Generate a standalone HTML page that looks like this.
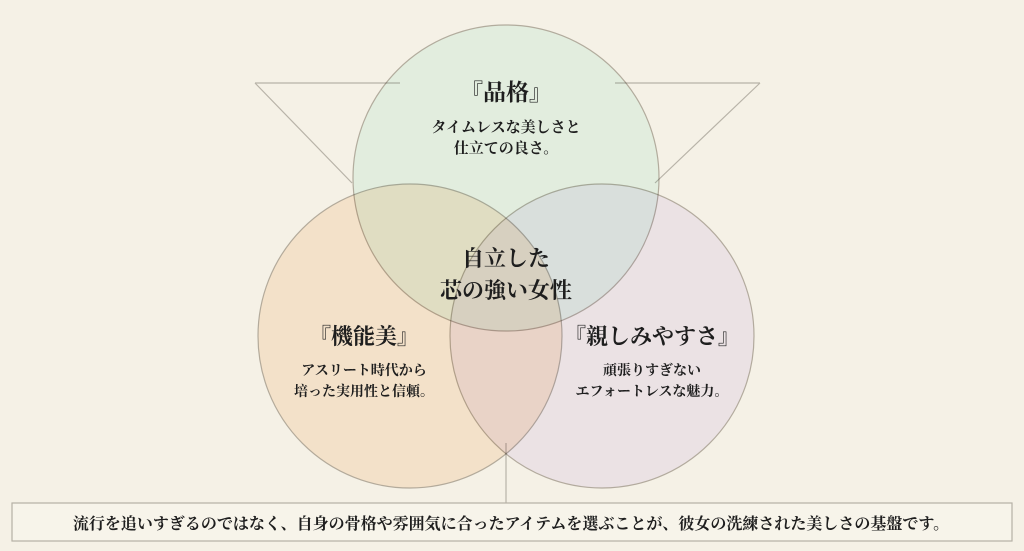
<html><head><style>
body{margin:0;background:#f5f1e6;}
svg text{font-family:"Liberation Serif","Noto Serif CJK SC",serif;fill:#1e1e1e;text-anchor:middle;font-weight:bold}
</style></head><body>
<svg width="1024" height="551" viewBox="0 0 1024 551" xmlns="http://www.w3.org/2000/svg">
<rect width="1024" height="551" fill="#f5f1e6"/>
<g stroke="#b8b3a8" stroke-width="1.2" fill="none">
<line x1="255" y1="83" x2="400" y2="83"/>
<line x1="615" y1="83" x2="760" y2="83"/>
<line x1="255" y1="83" x2="352" y2="183"/>
<line x1="760" y1="83" x2="655" y2="183"/>
<line x1="506" y1="443" x2="506" y2="503"/>
</g>
<g stroke="#aaa49b" stroke-width="1.2" stroke-opacity="0.8">
<circle cx="506" cy="178" r="153" fill="#ecfbf6" style="mix-blend-mode:multiply"/>
<circle cx="410" cy="336" r="152" fill="#fdeedf" style="mix-blend-mode:multiply"/>
<circle cx="602" cy="336" r="152" fill="#f5f0fd" style="mix-blend-mode:multiply"/>
</g>
<rect x="12" y="503" width="1000" height="38" fill="#f7f4ea" stroke="#b5b0a5" stroke-width="1.2"/>
<text x="506" y="100" font-size="23">『品格』</text>
<text x="506" y="132" font-size="15">タイムレスな美しさと</text>
<text x="506" y="153" font-size="15">仕立ての良さ。</text>
<text x="506" y="266" font-size="22">自立した</text>
<text x="506" y="298" font-size="22">芯の強い女性</text>
<text x="364" y="344" font-size="22">『機能美』</text>
<text x="364" y="375" font-size="14">アスリート時代から</text>
<text x="364" y="396" font-size="14">培った実用性と信頼。</text>
<text x="652" y="344" font-size="22">『親しみやすさ』</text>
<text x="652" y="375" font-size="14">頑張りすぎない</text>
<text x="652" y="396" font-size="14">エフォートレスな魅力。</text>
<text x="511" y="529" font-size="16">流行を追いすぎるのではなく、自身の骨格や雰囲気に合ったアイテムを選ぶことが、彼女の洗練された美しさの基盤です。</text>
</svg>
</body></html>
